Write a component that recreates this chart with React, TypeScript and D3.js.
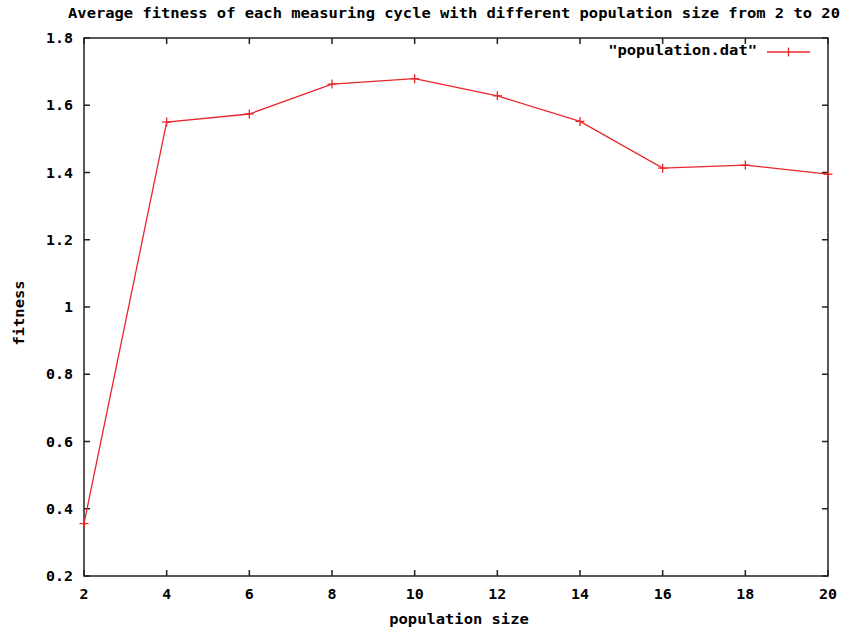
import React from "react";
import * as d3 from "d3";

const populationSizes = [2, 4, 6, 8, 10, 12, 14, 16, 18, 20];
const fitnessValues = [0.356, 1.55, 1.574, 1.663, 1.679, 1.628, 1.552, 1.413, 1.422, 1.395];
const xTicks = [2, 4, 6, 8, 10, 12, 14, 16, 18, 20];
const yTicks = [0.2, 0.4, 0.6, 0.8, 1.0, 1.2, 1.4, 1.6, 1.8];
const titleText = "Average fitness of each measuring cycle with different population size from 2 to 20";
const xLabel = "population size";
const yLabel = "fitness";
const legendLabel = '"population.dat"';

const W = 845;
const H = 631;
const left = 84;
const right = 828;
const top = 38;
const bottom = 576;
const FONT = "'DejaVu Sans Mono', monospace";
const CW = 9.3;
const RED = "#e8262b";
const AX = "#222";

export default function App() {
  const x = d3.scaleLinear().domain([2, 20]).range([left, right]);
  const y = d3.scaleLinear().domain([0.2, 1.8]).range([bottom, top]);
  const data = populationSizes.map((p, i) => ({ p, v: fitnessValues[i] }));
  const line = d3
    .line<{ p: number; v: number }>()
    .x((d) => x(d.p))
    .y((d) => y(d.v));
  const tl = 6;
  const fmt = (v: number) => (Math.abs(v - 1) < 1e-9 ? "1" : d3.format(".1f")(v));

  return (
    <svg
      width={W}
      height={H}
      style={{ position: "absolute", left: 0, top: 0, background: "#fff" }}
      fontFamily={FONT}
      fontWeight="bold"
    >
      <rect x={0} y={0} width={W} height={H} fill="#fff" />
      <text
        x={454}
        y={18}
        textAnchor="middle"
        fontSize={14}
        textLength={titleText.length * CW}
        lengthAdjust="spacingAndGlyphs"
        fill="#000"
      >
        {titleText}
      </text>

      {/* ticks */}
      {yTicks.map((t) => (
        <g key={"y" + t}>
          <line x1={left} x2={left + tl} y1={y(t)} y2={y(t)} stroke={AX} strokeWidth={1.5} />
          <line x1={right} x2={right - tl} y1={y(t)} y2={y(t)} stroke={AX} strokeWidth={1.5} />
          <text
            x={73}
            y={y(t) + 5}
            textAnchor="end"
            fontSize={14}
            textLength={fmt(t).length * 9}
            lengthAdjust="spacingAndGlyphs"
            fill="#000"
          >
            {fmt(t)}
          </text>
        </g>
      ))}
      {xTicks.map((t) => (
        <g key={"x" + t}>
          <line x1={x(t)} x2={x(t)} y1={bottom} y2={bottom - tl} stroke={AX} strokeWidth={1.5} />
          <line x1={x(t)} x2={x(t)} y1={top} y2={top + tl} stroke={AX} strokeWidth={1.5} />
          <text
            x={x(t)}
            y={599}
            textAnchor="middle"
            fontSize={14}
            textLength={String(t).length * 9}
            lengthAdjust="spacingAndGlyphs"
            fill="#000"
          >
            {t}
          </text>
        </g>
      ))}

      <rect
        x={left}
        y={top}
        width={right - left}
        height={bottom - top}
        fill="none"
        stroke={AX}
        strokeWidth={1.5}
      />

      {/* data line */}
      <path d={line(data) || ""} fill="none" stroke={RED} strokeWidth={1.3} />
      {data.map((d, i) => (
        <g key={"pt" + i} stroke={RED} strokeWidth={1.3}>
          <line x1={x(d.p) - 4.5} x2={x(d.p) + 4.5} y1={y(d.v)} y2={y(d.v)} />
          <line x1={x(d.p)} x2={x(d.p)} y1={y(d.v) - 4.5} y2={y(d.v) + 4.5} />
        </g>
      ))}

      {/* legend */}
      <text
        x={757}
        y={55}
        textAnchor="end"
        fontSize={14}
        textLength={legendLabel.length * CW}
        lengthAdjust="spacingAndGlyphs"
        fill="#000"
      >
        {legendLabel}
      </text>
      <line x1={767} x2={810} y1={52} y2={52} stroke={RED} strokeWidth={1.3} />
      <line x1={788.5} x2={788.5} y1={47.5} y2={56.5} stroke={RED} strokeWidth={1.3} />

      {/* axis labels */}
      <text
        x={459}
        y={624}
        textAnchor="middle"
        fontSize={14}
        textLength={xLabel.length * CW}
        lengthAdjust="spacingAndGlyphs"
        fill="#000"
      >
        {xLabel}
      </text>
      <text
        transform={`translate(24, 313) rotate(-90)`}
        textAnchor="middle"
        fontSize={14}
        textLength={yLabel.length * CW}
        lengthAdjust="spacingAndGlyphs"
        fill="#000"
      >
        {yLabel}
      </text>
    </svg>
  );
}
